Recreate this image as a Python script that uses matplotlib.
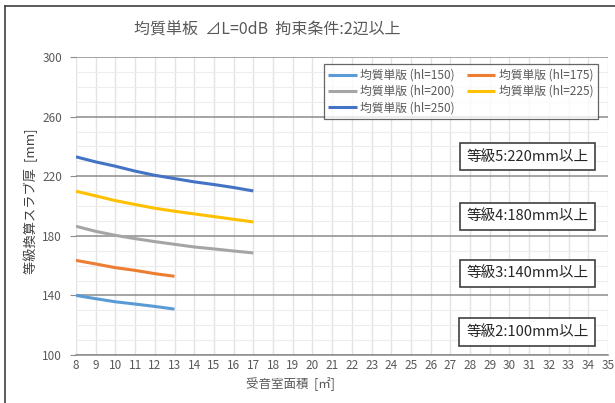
import matplotlib
matplotlib.use("Agg")
import matplotlib.pyplot as plt
from matplotlib.lines import Line2D

plt.rcParams['font.family'] = ['Noto Sans CJK JP', 'DejaVu Sans']

title = "均質単板  ⊿L=0dB  拘束条件:2辺以上"
xlabel = "受音室面積  [㎡]"
ylabel = "等級換算スラブ厚  [mm]"

x_short = [8, 9, 10, 11, 12, 13]
x_long = [8, 9, 10, 11, 12, 13, 14, 15, 16, 17]

hl150 = [140.0, 137.8, 135.7, 134.2, 132.6, 130.8]
hl175 = [163.5, 161.1, 158.6, 156.8, 154.6, 152.8]
hl200 = [186.4, 183.0, 180.3, 178.1, 176.1, 174.3, 172.5, 171.2, 169.8, 168.5]
hl225 = [209.9, 206.8, 203.6, 201.0, 198.5, 196.5, 194.7, 192.9, 191.1, 189.3]
hl250 = [233.0, 229.6, 226.7, 223.4, 220.6, 218.4, 216.2, 214.4, 212.4, 210.1]

series_names = ["均質単版 (hl=150)", "均質単版 (hl=175)", "均質単版 (hl=200)",
                "均質単版 (hl=225)", "均質単版 (hl=250)"]
series_colors = ["#5B9BD5", "#ED7D31", "#A5A5A5", "#FFC000", "#4472C4"]

grade_labels = ["等級5:220mm以上", "等級4:180mm以上", "等級3:140mm以上", "等級2:100mm以上"]
grade_y = [233, 193, 154.7, 115.4]
grade_x = 30.9

xticks = list(range(8, 36))
yticks = [100, 140, 180, 220, 260, 300]

W, H = 615, 403
fig = plt.figure(figsize=(W/100, H/100), dpi=100)
L, R, T, B = 76, 608, 57, 355
ax = fig.add_axes([L/W, 1-B/H, (R-L)/W, (B-T)/H])

data = [(x_short, hl150), (x_short, hl175), (x_long, hl200), (x_long, hl225), (x_long, hl250)]
handles = []
for (xs, ys), name, c in zip(data, series_names, series_colors):
    h, = ax.plot(xs, ys, color=c, lw=2.2, label=name, solid_capstyle='butt', zorder=3)
    handles.append(h)

ax.set_xlim(8, 35)
ax.set_ylim(100, 300)
ax.set_xticks(xticks)
ax.set_yticks(yticks)
ax.set_yticks(range(100, 301, 10), minor=True)
ax.grid(axis='x', which='major', color='#E3E3E3', lw=1.0, zorder=0)
ax.grid(axis='y', which='minor', color='#EDEDED', lw=0.8, zorder=0)
ax.grid(axis='y', which='major', color='#8C8C8C', lw=1.1, zorder=1)
for s in ['top', 'right', 'left']:
    ax.spines[s].set_visible(False)
ax.spines['bottom'].set_color('#8C8C8C')
ax.spines['bottom'].set_linewidth(1.1)
ax.tick_params(axis='x', length=0, labelsize=8.5, labelcolor='#595959', pad=3)
ax.tick_params(axis='y', which='major', length=4, color='#8C8C8C', labelsize=8.5,
               labelcolor='#595959', pad=6)
ax.tick_params(axis='y', which='minor', length=0)

ax.set_xlabel(xlabel, fontsize=9, color='#595959')
ax.xaxis.set_label_coords((290-L)/(R-L), -(384-B)/(B-T))
ax.xaxis.label.set_va('center')
ax.set_ylabel(ylabel, fontsize=9.5, color='#404040')
ax.yaxis.set_label_coords(-(L-31)/(R-L), (B-201)/(B-T))
ax.yaxis.label.set_va('center')

fig.text(267/W, 1-30/H, title, ha='center', va='center', fontsize=11.5, color='#595959')

order = [0, 2, 4, 1, 3]
leg = ax.legend([handles[i] for i in order], [series_names[i] for i in order],
                loc='upper right', bbox_to_anchor=(598/W, 1-64/H), bbox_transform=fig.transFigure,
                borderaxespad=0, ncol=2, fontsize=8.5, frameon=True, fancybox=False,
                handlelength=2.4, handletextpad=0.3, columnspacing=1.0, borderpad=0.4,
                labelspacing=0.28)
leg.get_frame().set_edgecolor('#404040')
leg.get_frame().set_linewidth(0.9)
for t in leg.get_texts():
    t.set_color('#595959')

for lab, gy in zip(grade_labels, grade_y):
    ax.text(grade_x, gy, lab, ha='center', va='center', fontsize=10.5, color='#262626', zorder=5,
            bbox=dict(boxstyle='square,pad=0.45', fc='white', ec='#404040', lw=1.2))

# outer frame (chart area border)
fig.add_artist(Line2D([5/W, 5/W], [0, 1-6/H], transform=fig.transFigure, color='#404040', lw=1.2))
fig.add_artist(Line2D([5/W, 1], [1-6/H, 1-6/H], transform=fig.transFigure, color='#404040', lw=1.2))

fig.savefig("out.png", dpi=100)
